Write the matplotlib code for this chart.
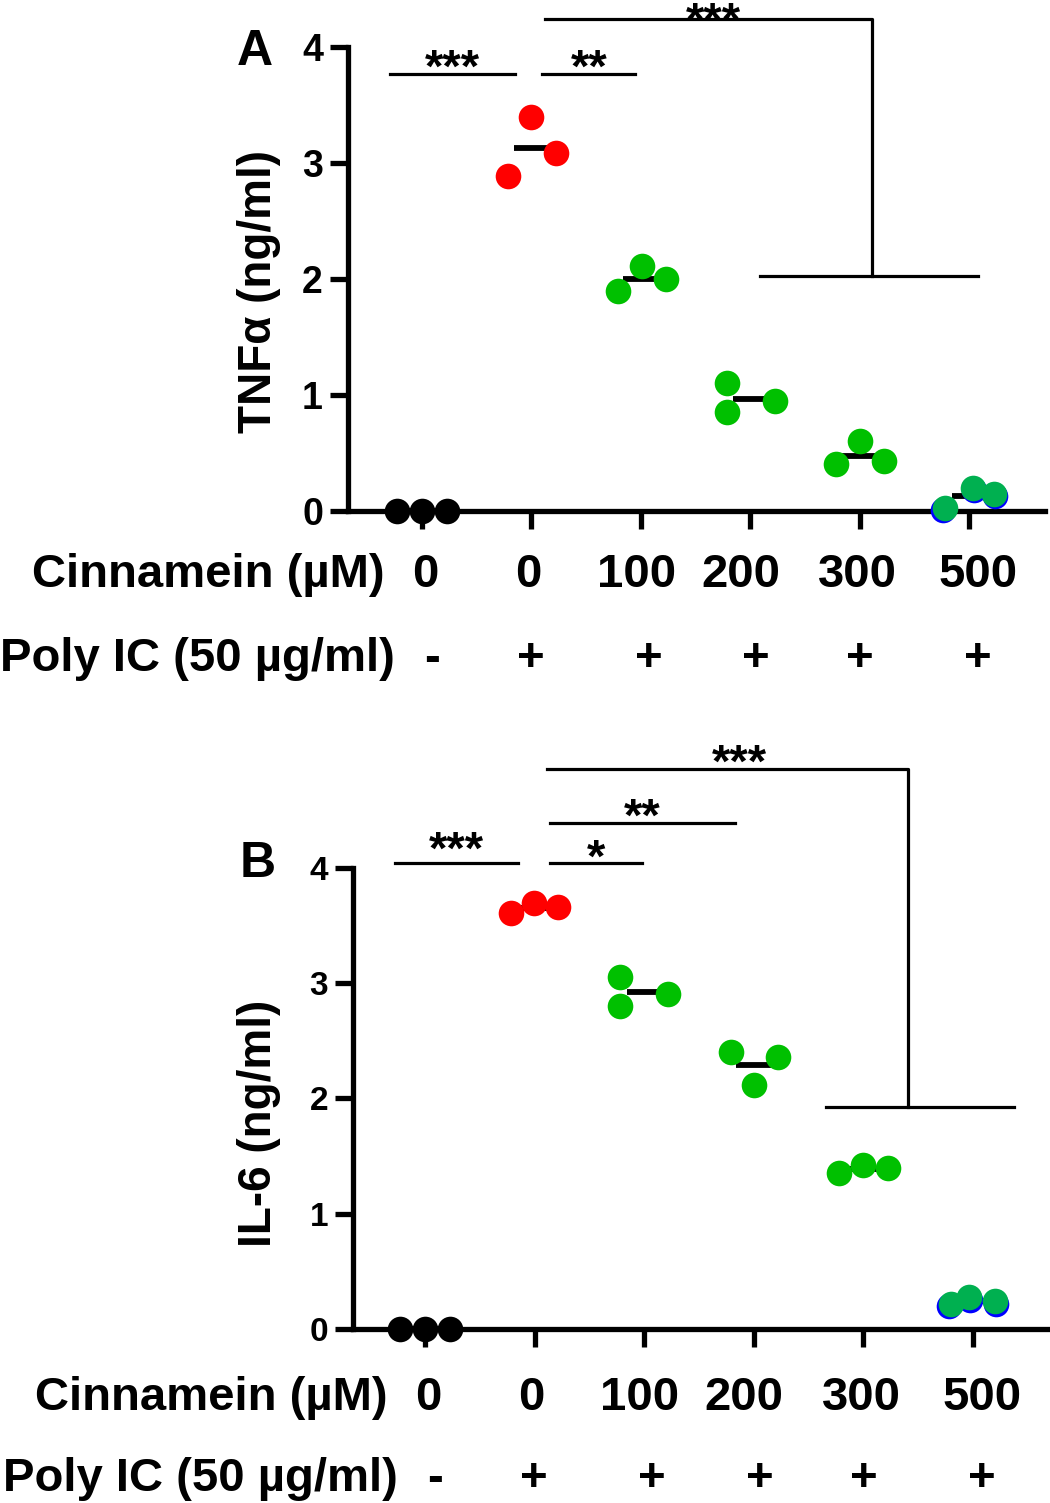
import numpy as np
import matplotlib
matplotlib.use("Agg")
import matplotlib.pyplot as plt

plt.rcParams['font.family'] = ['Liberation Sans', 'DejaVu Sans']
plt.rcParams['font.weight'] = 'bold'

# ---- data ----
cinnamein = ['0', '0', '100', '200', '300', '500']
poly_ic = ['-', '+', '+', '+', '+', '+']

tnf = [[0, 0, 0],
       [2.89, 3.40, 3.09],
       [1.90, 2.11, 2.00],
       [1.10, 0.85, 0.95],
       [0.405, 0.60, 0.43],
       [0.03, 0.20, 0.15]]
tnf_blue = [0.01, 0.18, 0.13]     # blue points hidden under the 500 uM group

il6 = [[0, 0, 0],
       [3.61, 3.70, 3.66],
       [3.05, 2.80, 2.91],
       [2.40, 2.12, 2.36],
       [1.35, 1.42, 1.40],
       [0.22, 0.28, 0.24]]
il6_blue = [0.20, 0.25, 0.22]

# ---- layout / style ----
tnf_jit = [[-0.23, 0, 0.23], [-0.21, 0, 0.22], [-0.21, 0.01, 0.23],
           [-0.21, -0.21, 0.22], [-0.22, 0, 0.22], [-0.22, 0.03, 0.22]]
il6_jit = [[-0.23, 0, 0.23], [-0.22, -0.01, 0.21], [-0.22, -0.22, 0.22],
           [-0.21, 0, 0.22], [-0.22, 0, 0.22], [-0.2, -0.04, 0.2]]
blue_dx = [-0.02, 0.01, 0.01]
colors = ['black', '#ff0000', '#00c000', '#00c000', '#00c000', '#00b050']
lab_dx = [0.03, -0.03, -0.04, -0.09, -0.02, 0.08]
plus_dx = [0.09, -0.01, 0.07, 0.05, 0.0, 0.08]

# (x1, x2, y, text, gap px)
A_pairs = [(-0.29, 0.85, 3.77, '***', 12), (1.10, 1.95, 3.77, '**', 12)]
A_big = (1.12, 4.11, 4.24, 3.09, 5.08, 2.03, '***', 2.66, 4)
B_pairs = [(-0.27, 0.85, 4.04, '***', 20), (1.14, 1.98, 4.04, '*', 12),
           (1.14, 2.83, 4.39, '**', 12)]
B_big = (1.11, 4.41, 4.86, 3.66, 5.37, 1.93, '***', 2.87, 12)

fig = plt.figure(figsize=(10.5, 15.03), dpi=100)
axA = fig.add_axes([0.3314, 0.66001, 0.6638, 0.30872])
axB = fig.add_axes([0.3362, 0.11577, 0.6610, 0.30672])


def star(ax, x, y, s, gap):
    ax.annotate(s, (x, y), xytext=(0, (gap - 20) * 0.72), textcoords='offset points',
                ha='center', va='baseline', fontsize=34, fontweight='bold',
                annotation_clip=False)


def panel(ax, vals, jit, blue, xlim, tick_fs, ylabel, ylab_pos, rows_y,
          pairs, big):
    x = np.arange(len(vals))
    for i, v in enumerate(vals):
        m = np.mean(v)
        ax.plot([i - 0.16, i + 0.16], [m, m], color='black', lw=4.2,
                solid_capstyle='butt', zorder=2, clip_on=False)
        if i == len(vals) - 1:
            ax.scatter(i + np.array(jit[i]) + np.array(blue_dx), blue, s=340,
                       color='#0000ff', lw=0, zorder=3, clip_on=False)
        ax.scatter(i + np.array(jit[i]), v, s=340, color=colors[i], lw=0,
                   zorder=4, clip_on=False)

    ax.set_xlim(*xlim)
    ax.set_ylim(0, 4)
    ax.set_xticks(x)
    ax.set_xticklabels([])
    ax.set_yticks([0, 1, 2, 3, 4])
    ax.tick_params(axis='y', length=13, width=3.8, labelsize=tick_fs, pad=5)
    ax.tick_params(axis='x', length=13, width=3.8)
    for t in ax.get_yticklabels():
        t.set_fontweight('bold')
    for sp in ['top', 'right']:
        ax.spines[sp].set_visible(False)
    for sp in ['left', 'bottom']:
        ax.spines[sp].set_linewidth(3.8)

    ax.text(ylab_pos[0], ylab_pos[1], ylabel, transform=ax.transAxes,
            rotation=90, ha='center', va='center', fontsize=33,
            fontweight='bold')

    tr = ax.get_xaxis_transform()
    ax.text(-0.34, rows_y[0], 'Cinnamein (µM)', transform=tr, ha='right',
            va='baseline', fontsize=34, fontweight='bold')
    ax.text(-0.25, rows_y[1], 'Poly IC (50 µg/ml)', transform=tr, ha='right',
            va='baseline', fontsize=34, fontweight='bold')
    for i in range(len(cinnamein)):
        ax.text(i + lab_dx[i], rows_y[0], cinnamein[i], transform=tr,
                ha='center', va='baseline', fontsize=34, fontweight='bold')
        ax.text(i + plus_dx[i], rows_y[1], poly_ic[i], transform=tr,
                ha='center', va='baseline', fontsize=34, fontweight='bold')

    for x1, x2, y, s, gap in pairs:
        ax.plot([x1, x2], [y, y], color='black', lw=2.3, clip_on=False)
        star(ax, (x1 + x2) / 2, y, s, gap)
    a1, a2, ay, b1, b2, by, s, sx, gap = big
    ax.plot([a1, a2, a2], [ay, ay, by], color='black', lw=2.3, clip_on=False)
    ax.plot([b1, b2], [by, by], color='black', lw=2.3, clip_on=False)
    star(ax, sx, ay, s, gap)


panel(axA, tnf, tnf_jit, tnf_blue, (-0.676, 5.69), 27, 'TNFα (ng/ml)',
      (-0.128, 0.472), (-0.1638, -0.3448), A_pairs, A_big)
panel(axB, il6, il6_jit, il6_blue, (-0.657, 5.675), 24, 'IL-6 (ng/ml)',
      (-0.135, 0.447), (-0.1757, -0.3520), B_pairs, B_big)

fig.text(0.243, 0.9568, 'A', ha='center', va='baseline', fontsize=36,
         fontweight='bold')
fig.text(0.245, 0.4165, 'B', ha='center', va='baseline', fontsize=36,
         fontweight='bold')

fig.savefig('out.png', dpi=100)
